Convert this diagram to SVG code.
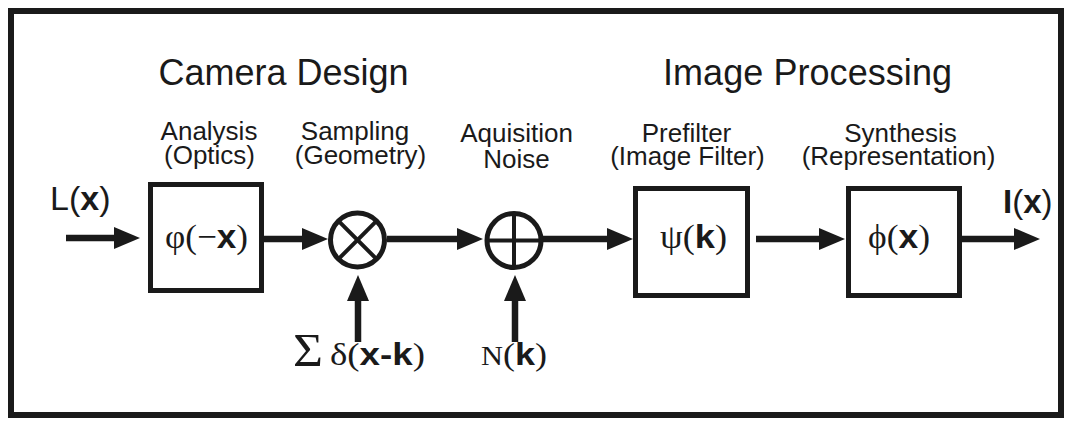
<svg xmlns="http://www.w3.org/2000/svg" width="1068" height="421" viewBox="0 0 1068 421">
  <style>
    .frame { fill: none; stroke: #1a1a1a; stroke-width: 6; }
    .block { fill: #ffffff; stroke: #1a1a1a; stroke-width: 5; }
    .junction { fill: #ffffff; stroke: #1a1a1a; stroke-width: 5; }
    .mark { stroke: #1a1a1a; stroke-width: 4; }
    .wire { stroke: #1a1a1a; stroke-width: 6.5; fill: none; }
    .head { font-family: "Liberation Sans", Arial, sans-serif; font-size: 36px; fill: #1a1a1a; }
    .label { font-family: "Liberation Sans", Arial, sans-serif; font-size: 26px; fill: #1a1a1a; text-anchor: middle; }
    .sans { font-family: "Liberation Sans", Arial, sans-serif; fill: #1a1a1a; }
    .serif { font-family: "Liberation Serif", "Times New Roman", serif; fill: #1a1a1a; }
    .bold { font-family: "Liberation Sans", Arial, sans-serif; font-weight: bold; }
  </style>
  <defs>
    <marker id="arrow" markerUnits="userSpaceOnUse" markerWidth="26" markerHeight="22" refX="6" refY="11" orient="auto">
      <path d="M0,0 L26,11 L0,22 Z" fill="#1a1a1a"/>
    </marker>
  </defs>

  <rect width="1068" height="421" fill="#ffffff"/>
  <rect class="frame" x="11" y="11" width="1050" height="404"/>

  <!-- section headings -->
  <text class="head" x="283.5" y="85" text-anchor="middle">Camera Design</text>
  <text class="head" x="807.5" y="85" text-anchor="middle" textLength="289">Image Processing</text>

  <!-- signal path -->
  <g id="connectors">
    <line class="wire" x1="66" y1="238" x2="120" y2="238" marker-end="url(#arrow)"/>
    <line class="wire" x1="264" y1="239" x2="308" y2="239" marker-end="url(#arrow)"/>
    <line class="wire" x1="387" y1="239" x2="463" y2="239" marker-end="url(#arrow)"/>
    <line class="wire" x1="543" y1="239" x2="613" y2="239" marker-end="url(#arrow)"/>
    <line class="wire" x1="756" y1="239" x2="825" y2="239" marker-end="url(#arrow)"/>
    <line class="wire" x1="962" y1="239" x2="1020" y2="239" marker-end="url(#arrow)"/>
    <line class="wire" x1="358" y1="342" x2="358" y2="295" marker-end="url(#arrow)"/>
    <line class="wire" x1="515" y1="342" x2="515" y2="295" marker-end="url(#arrow)"/>
  </g>

  <!-- input signal -->
  <g id="input">
    <text class="sans" x="50" y="210" font-size="34">L(<tspan class="bold">x</tspan>)</text>
  </g>

  <!-- optics -->
  <g id="analysis">
    <text class="label" x="209" y="140">Analysis</text>
    <text class="label" x="209.5" y="164">(Optics)</text>
    <rect class="block" x="150.5" y="184.5" width="111" height="106"/>
    <text class="serif" x="165" y="248" font-size="34" textLength="83" lengthAdjust="spacingAndGlyphs">φ(−<tspan class="bold">x</tspan>)</text>
  </g>

  <!-- sampling -->
  <g id="sampling">
    <text class="label" x="355" y="140">Sampling</text>
    <text class="label" x="360.5" y="164">(Geometry)</text>
    <circle class="junction" cx="357.5" cy="240" r="27"/>
    <line class="mark" x1="338.4" y1="220.9" x2="376.6" y2="259.1"/>
    <line class="mark" x1="376.6" y1="220.9" x2="338.4" y2="259.1"/>
  </g>
  <g id="comb">
    <text class="serif" x="293" y="366" font-size="46" textLength="30" lengthAdjust="spacingAndGlyphs">Σ</text>
    <text class="serif" x="330" y="365" font-size="32" textLength="95" lengthAdjust="spacingAndGlyphs">δ(<tspan class="bold">x-k</tspan>)</text>
  </g>

  <!-- noise -->
  <g id="noise">
    <text class="label" x="516.5" y="142">Aquisition</text>
    <text class="label" x="516.5" y="168">Noise</text>
    <circle class="junction" cx="514" cy="240.5" r="27"/>
    <line class="mark" x1="487" y1="240.5" x2="541" y2="240.5"/>
    <line class="mark" x1="514" y1="213.5" x2="514" y2="267.5"/>
  </g>
  <g id="noise-source">
    <text class="serif" x="481" y="365" font-size="32" textLength="66" lengthAdjust="spacingAndGlyphs"><tspan font-size="27">N</tspan>(<tspan class="bold">k</tspan>)</text>
  </g>

  <!-- prefilter -->
  <g id="prefilter">
    <text class="label" x="686.5" y="142">Prefilter</text>
    <text class="label" x="687.5" y="165">(Image Filter)</text>
    <rect class="block" x="635.5" y="188.5" width="112" height="107"/>
    <text class="serif" x="660" y="248" font-size="33" textLength="67" lengthAdjust="spacingAndGlyphs">ψ(<tspan class="bold">k</tspan>)</text>
  </g>

  <!-- reconstruction -->
  <g id="synthesis">
    <text class="label" x="900.5" y="142">Synthesis</text>
    <text class="label" x="898.5" y="165">(Representation)</text>
    <rect class="block" x="848.5" y="188.5" width="111" height="107"/>
    <text class="serif" x="868" y="248" font-size="33" textLength="62" lengthAdjust="spacingAndGlyphs">ϕ(<tspan class="bold">x</tspan>)</text>
  </g>

  <!-- output signal -->
  <g id="output">
    <text class="sans" x="1003" y="213" font-size="33"><tspan class="bold">I</tspan>(<tspan class="bold">x</tspan>)</text>
  </g>
</svg>
